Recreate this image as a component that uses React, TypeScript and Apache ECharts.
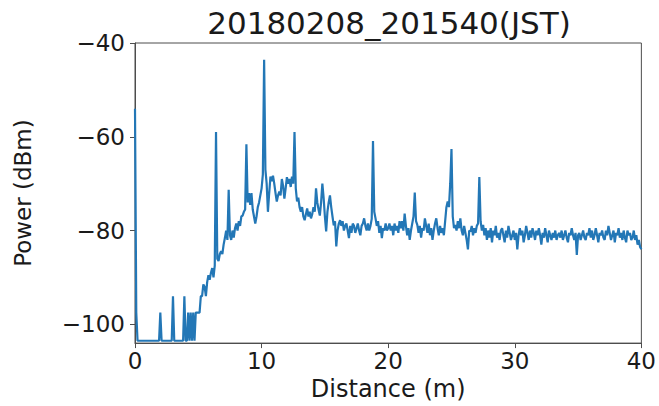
import React, { useEffect, useRef } from "react";
import * as echarts from "echarts";

const TITLE = "20180208_201540(JST)";
const X_NAME = "Distance (m)";
const Y_NAME = "Power (dBm)";
const X_TICKS = [0, 10, 20, 30, 40];
const Y_TICKS = [-100, -80, -60, -40];
const STEP_M = 0.1;

// Power (dBm) sampled every 0.1 m from 0.0 m to 40.0 m
const power: number[] = [
  // 0.x
  -54, -97.5, -103.5, -103.5, -103.5, -103.5, -103.5, -103.5, -103.5, -103.5,
  // 1.x
  -103.5, -103.5, -103.5, -103.5, -103.5, -103.5, -103.5, -103.5, -103.5, -103.5,
  // 2.x
  -97.5, -103.5, -103.5, -103.5, -103.5, -103.5, -103.5, -103.5, -103.5, -103.5,
  // 3.x
  -94, -103.5, -103.5, -103.5, -103.5, -103.5, -103.5, -103.5, -103.5, -94,
  // 4.x
  -103.5, -103.5, -97.5, -103.5, -97.5, -103.5, -97.5, -103.5, -97.5, -97.5,
  // 5.x
  -97.5, -97.5, -94, -94, -91.5, -92, -94, -91, -89.5, -90.5,
  // 6.x
  -89, -88, -90, -87.5, -59, -86, -86.5, -85, -84.4, -85,
  // 7.x
  -83, -81.6, -80, -82, -71.3, -81, -82, -80, -81.5, -79.5,
  // 8.x
  -78.5, -80, -78, -79, -77, -76.8, -76, -75.5, -61.6, -74,
  // 9.x
  -72, -74.5, -72, -75.5, -77, -78.5, -77, -75, -74, -72.5,
  // 10.x
  -71, -68, -43.6, -67, -70, -76, -72, -68.5, -69.5, -68.3,
  // 11.x
  -70, -72, -73.8, -72.5, -71.7, -72.5, -69, -70.5, -73.2, -71,
  // 12.x
  -68.6, -70, -69, -70.7, -68.5, -70, -59, -71, -73.8, -73,
  // 13.x
  -75, -76, -75, -77, -77.8, -76.5, -75.3, -77, -76, -77.4,
  // 14.x
  -76.5, -75, -76, -71, -74, -75.5, -76.8, -74, -70, -73,
  // 15.x
  -77, -80.2, -76, -74, -72.5, -75, -77, -78.9, -78, -83.4,
  // 16.x
  -80, -78.5, -77.8, -79, -78, -80, -79, -78.5, -80, -81.6,
  // 17.x
  -79, -80.5, -78.5, -79, -80.5, -79.5, -78.5, -80, -81, -79,
  // 18.x
  -78.5, -77.4, -79, -80, -78.5, -80, -79, -77.5, -60.9, -76,
  // 19.x
  -77.4, -79, -78, -80.5, -79, -81.6, -79.5, -80, -78.5, -80,
  // 20.x
  -79.5, -78.5, -80, -79, -81, -78.5, -80, -79, -80.5, -78,
  // 21.x
  -79.5, -78, -80, -76.4, -79, -81, -79.5, -82, -80, -78.5,
  // 22.x
  -77, -71.9, -78, -78.8, -80.5, -79, -81.5, -79.5, -80, -77.4,
  // 23.x
  -79, -80.5, -78.5, -81, -79.5, -82, -80, -78.5, -77.4, -79.5,
  // 24.x
  -81, -79, -80.5, -79.5, -81, -78, -75, -73.8, -75, -70,
  // 25.x
  -62.6, -77, -79.5, -78.8, -80, -78, -79.5, -77.4, -80, -81,
  // 26.x
  -79, -80.5, -82, -84, -80, -80.2, -79, -81, -79.5, -80.5,
  // 27.x
  -79, -78.5, -68.6, -78, -80, -78.8, -81, -79.5, -82, -80,
  // 28.x
  -81.5, -79.5, -82.5, -80, -81, -79, -81.5, -80.5, -82, -80,
  // 29.x
  -79.5, -81, -82.5, -80, -81.5, -79, -80.5, -82, -81, -80,
  // 30.x
  -82, -80.5, -84, -81, -79.5, -81, -80, -82.5, -81, -79,
  // 31.x
  -80.5, -82, -80, -81.5, -79.5, -80.5, -82, -80, -81, -79.5,
  // 32.x
  -81, -83, -80.5, -81.5, -79.5, -81, -82.5, -80, -81, -82,
  // 33.x
  -80.5, -81.5, -80, -82, -81, -80.5, -81.5, -80, -82, -81,
  // 34.x
  -80, -81.5, -82.5, -80.5, -81, -79.5, -81, -82, -80.5, -85.2,
  // 35.x
  -81, -80.5, -82, -81, -80, -81.5, -82, -80.5, -81, -79.5,
  // 36.x
  -81.5, -80, -82, -81, -79.5, -81, -82.5, -80.5, -81, -80,
  // 37.x
  -81.5, -82, -80, -81, -79, -80.5, -82, -81, -80, -82.5,
  // 38.x
  -80.5, -81, -79.5, -81.5, -80.5, -82, -80, -81.5, -82.5, -80,
  // 39.x
  -81, -80.5, -82, -81.5, -80, -82, -81, -83, -82, -83.5,
  // 40.0
  -84,
];

const FONT = "DejaVu Sans";

export default function App() {
  const ref = useRef<HTMLDivElement>(null);

  useEffect(() => {
    if (!ref.current) return;
    const chart = echarts.init(ref.current, undefined, { renderer: "svg" });
    const seriesData = power.map((v, i) => [Math.round(i * STEP_M * 10) / 10, v]);
    const axisColor = "#4d4d4d";
    chart.setOption({
      animation: false,
      backgroundColor: "#ffffff",
      textStyle: { fontFamily: FONT },
      grid: {
        left: 135,
        right: 16,
        top: 43,
        bottom: 61,
        show: true,
        borderColor: axisColor,
        borderWidth: 1,
        backgroundColor: "transparent",
      },
      graphic: [
        {
          type: "text",
          x: 389,
          y: 23,
          style: {
            text: TITLE,
            fontFamily: FONT,
            fontSize: 31,
            fill: "#1a1a1a",
            textAlign: "center",
            textVerticalAlign: "middle",
          },
        },
      ],
      xAxis: {
        type: "value",
        min: 0,
        max: 40,
        interval: 10,
        name: X_NAME,
        nameLocation: "middle",
        nameGap: 31,
        nameTextStyle: { fontFamily: FONT, fontSize: 24, color: "#1a1a1a" },
        axisLine: { show: true, lineStyle: { color: axisColor, width: 1 } },
        axisTick: {
          show: true,
          inside: false,
          length: 5,
          lineStyle: { color: axisColor },
          customValues: X_TICKS,
        },
        axisLabel: {
          fontFamily: FONT,
          fontSize: 23,
          color: "#1a1a1a",
          margin: 6,
          customValues: X_TICKS,
          formatter: (v: number) => String(v),
        },
        splitLine: { show: false },
      },
      yAxis: {
        type: "value",
        min: -104,
        max: -40,
        name: Y_NAME,
        nameLocation: "middle",
        nameGap: 101,
        nameRotate: 90,
        nameTextStyle: { fontFamily: FONT, fontSize: 23, color: "#1a1a1a" },
        axisLine: { show: true, lineStyle: { color: axisColor, width: 1 } },
        axisTick: {
          show: true,
          inside: false,
          length: 5,
          lineStyle: { color: axisColor },
          customValues: Y_TICKS,
        },
        axisLabel: {
          fontFamily: FONT,
          fontSize: 23,
          color: "#1a1a1a",
          margin: 10,
          customValues: Y_TICKS,
          formatter: (v: number) => (v < 0 ? "\u2212" + Math.abs(v) : String(v)),
        },
        splitLine: { show: false },
      },
      series: [
        {
          type: "line",
          data: seriesData,
          showSymbol: false,
          symbol: "none",
          lineStyle: { color: "#2377b6", width: 2.2 },
          clip: true,
        },
      ],
    });
    return () => {
      chart.dispose();
    };
  }, []);

  return (
    <div
      ref={ref}
      style={{ position: "fixed", left: 0, top: 0, width: 659, height: 406, background: "#fff" }}
    />
  );
}
